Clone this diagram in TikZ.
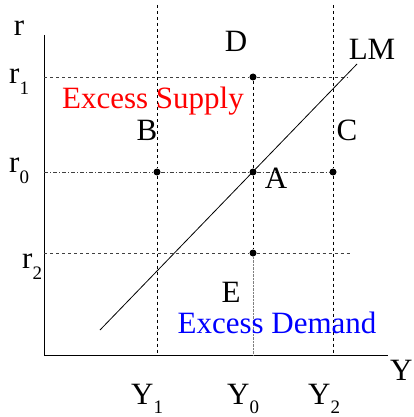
\documentclass[tikz,border=0pt]{standalone}
\usepackage{fontspec}
\setmainfont{Liberation Serif}
\newcommand{\lbl}[3][11pt]{#2\raisebox{-#1}{\fontsize{19}{19}\selectfont #3}}
\begin{document}
\begin{tikzpicture}[x=1pt,y=-1pt,font=\fontsize{31}{36}\selectfont,
    dot/.style={circle,fill,inner sep=0pt,minimum size=7pt},
    lab/.style={inner sep=0pt,anchor=base},
    labw/.style={inner sep=0pt,anchor=base west},
    guide/.style={dashed,line width=0.8pt}]
  \useasboundingbox (0,0) rectangle (413,417);
  % the axes
  \coordinate (O) at (44,355);
  \coordinate (top) at (44,35);
  \coordinate (right) at (388,355);
  \draw[line width=1pt] (top) -- (O) -- (right);
  \node[lab] (r) at (19,36) {r};
  \node[labw] (Y) at (390,380) {Y};
  % the points
  \node[dot] (D) at (253,77) {};
  \node[dot] (B) at (157,172) {};
  \node[dot] (A) at (253,172) {};
  \node[dot] (C) at (333,172) {};
  \node[dot] (E) at (253,253) {};
  % guide lines
  \draw[guide] (157,5) -- (B) -- (B |- O);
  \draw[guide] (333,5) -- (C) -- (C |- O);
  \draw[guide] (D) -- (A) -- (E);
  \draw[densely dotted,gray] (E) -- (E |- O);
  \draw[guide,black!75] (O |- D) -- (D) -- (348,77);
  \draw[black!75,line width=0.8pt,dash pattern=on 4pt off 2pt on 1pt off 2pt] (O |- B) -- (B) -- (A) -- (C);
  \draw[guide,black!75] (O |- E) -- (E) -- (350,253);
  % LM curve
  \coordinate (lm1) at (100,330);
  \coordinate (lm2) at (357,64);
  \draw[line width=0.8pt] (lm1) -- (lm2);
  % labels
  \node[labw] (r1) at (9,84) {\lbl{r}{1}};
  \node[labw] (r0) at (9,172) {\lbl{r}{0}};
  \node[labw] (r2) at (22,268) {\lbl{r}{2}};
  \node[labw] (Y1) at (131,404) {\lbl[9pt]{Y}{1}};
  \node[labw] (Y0) at (227,404) {\lbl[9pt]{Y}{0}};
  \node[labw] (Y2) at (308,404) {\lbl[9pt]{Y}{2}};
  \node[lab] at (236,52) {D};
  \node[lab] at (147,140) {B};
  \node[lab] at (276,188) {A};
  \node[lab] at (347,140) {C};
  \node[lab] at (231,302) {E};
  \node[lab] (LM) at (372,60) {LM};
  \node[lab,red] (supply) at (153,109) {Excess Supply};
  \node[lab,blue] (demand) at (277,333) {Excess Demand};
\end{tikzpicture}
\end{document}
